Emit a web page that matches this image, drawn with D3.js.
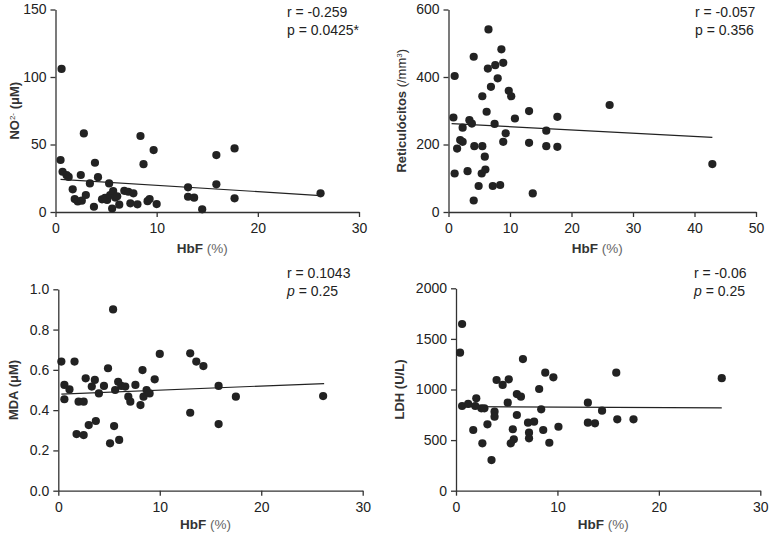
<!DOCTYPE html>
<html><head><meta charset="utf-8">
<script src="https://cdn.jsdelivr.net/npm/d3@7"></script>
<style>
body{margin:0;background:#fff;}
svg text{font-family:"Liberation Sans",Arial,sans-serif;}
</style></head>
<body><svg id="c" width="771" height="535"></svg>
<script>
// Panel A: NO2- vs HbF
const no2HbF = [0.6,0.5,0.7,1.1,1.3,1.7,1.9,2.2,2.5,2.8,3.0,2.6,3.4,3.8,3.9,4.2,4.6,4.9,5.1,5.3,5.4,5.7,5.6,5.9,6.1,6.3,6.8,7.2,7.4,7.7,8.1,8.4,8.7,9.1,9.3,9.7,10.0,13.1,13.1,13.7,14.5,15.9,15.9,17.7,17.7,26.2];
const no2Val = [106,38.5,29.8,27.3,26,16.8,9.6,7.8,27.4,58.2,12.6,8.4,21.2,3.9,36.5,25.8,9.4,10.5,8.9,21.2,12.6,15.5,2.6,10.7,11.6,5.4,15.7,15,6.4,13.8,5.7,56.3,35.4,8.0,9.6,45.9,5.9,18.3,11.3,10.6,2,42.2,20.5,47.1,10.1,13.8];
const no2Fit = {x:[0.5,26.2], y:[24.2,12.2]};

// Panel B: Reticulócitos vs HbF
const retHbF = [0.8,1.0,1.0,1.4,1.9,2.3,2.3,3.1,3.4,3.8,4.1,4.2,4.1,4.9,5.4,5.5,5.5,5.9,6.0,6.2,6.4,6.5,6.9,7.2,7.5,7.6,8.0,8.4,8.6,8.9,8.9,9.3,9.8,10.2,10.8,13.1,13.1,13.7,15.9,15.9,17.7,17.7,26.2,42.9];
const retVal = [280,403,114,188,213,208,250,121,272,262,460,195,34,77,114,195,343,164,126,297,425,541,371,77,261,435,396,80,482,208,442,233,359,343,277,299,205,55,241,195,282,193,317,142];
const retFit = {x:[0.5,42.9], y:[262,221]};

// Panel C: MDA vs HbF
const mdaHbF = [0.3,0.6,0.6,1.1,1.6,1.8,2.0,2.5,2.5,2.7,3.0,3.3,3.6,3.7,4.0,4.5,4.9,5.1,5.4,5.5,5.6,6.0,5.9,6.2,6.6,6.9,7.1,7.6,8.1,8.3,8.4,8.7,9.0,9.5,10.0,13.0,13.0,13.6,14.3,15.8,15.8,17.5,26.1];
const mdaVal = [0.641,0.525,0.454,0.503,0.641,0.281,0.442,0.442,0.276,0.558,0.326,0.517,0.55,0.346,0.483,0.52,0.608,0.235,0.9,0.321,0.5,0.252,0.541,0.52,0.517,0.467,0.442,0.525,0.425,0.599,0.467,0.5,0.483,0.553,0.679,0.682,0.387,0.641,0.619,0.52,0.331,0.467,0.47];
const mdaFit = {x:[0.3,26.2], y:[0.48,0.532]};

// Panel D: LDH vs HbF
const ldhHbF = [0.6,0.4,6.6,4.0,4.6,5.2,8.8,9.6,15.8,8.2,6.0,6.4,2.0,0.6,1.2,1.9,2.5,2.8,3.8,3.8,5.1,6.0,8.4,7.1,7.7,5.6,3.1,1.7,7.2,7.2,5.7,5.4,8.6,10.1,9.2,2.6,3.5,13.0,14.4,13.0,13.7,15.9,17.5,26.2];
const ldhVal = [1647,1364,1301,1094,1045,1101,1166,1120,1166,1005,955,929,913,837,857,837,814,814,781,731,870,748,804,672,682,607,656,600,573,518,508,468,600,632,474,468,303,870,791,672,666,705,705,1112];
const ldhFit = {x:[0.5,26.2], y:[830,818]};

const xTicksA = [0,10,20,30], xTicksB = [0,10,20,30,40,50];
const yTicksA = [0,50,100,150], yTicksB = [0,200,400,600];
const yTicksC = [0,0.2,0.4,0.6,0.8,1.0], yTicksD = [0,500,1000,1500,2000];
const xTitle = ["HbF", " (%)"];
const stats = [["r = -0.259","p"," = 0.0425*",false],["r = -0.057","p"," = 0.356",false],["r = 0.1043","p"," = 0.25",true],["r = -0.06","p"," = 0.25",true]];

const svg = d3.select("#c");
const ink = "#222";

const panels = [
 {xs:no2HbF, ys:no2Val, fit:no2Fit, xd:[0,30], yd:[0,150], xt:xTicksA, yt:yTicksA, fmt:d3.format("d"),
  L:55.5, R:359, T:9.5, B:212, yTitleX:19, xTitleY:253, yTitle:"no2", st:stats[0], stX:287, stY:17},
 {xs:retHbF, ys:retVal, fit:retFit, xd:[0,50], yd:[0,600], xt:xTicksB, yt:yTicksB, fmt:d3.format("d"),
  L:448.5, R:756, T:9.5, B:212, yTitleX:406, xTitleY:253, yTitle:"ret", st:stats[1], stX:695, stY:17},
 {xs:mdaHbF, ys:mdaVal, fit:mdaFit, xd:[0,30], yd:[0,1], xt:xTicksA, yt:yTicksC, fmt:d3.format(".1f"),
  L:58.3, R:362.7, T:289.3, B:490.7, yTitleX:18, xTitleY:529, yTitle:"mda", st:stats[2], stX:287, stY:278},
 {xs:ldhHbF, ys:ldhVal, fit:ldhFit, xd:[0,30], yd:[0,2000], xt:xTicksA, yt:yTicksD, fmt:d3.format("d"),
  L:456, R:760.3, T:288.3, B:490.7, yTitleX:404, xTitleY:529, yTitle:"ldh", st:stats[3], stX:694, stY:278}
];

panels.forEach(p=>{
  const x = d3.scaleLinear().domain(p.xd).range([p.L,p.R]);
  const y = d3.scaleLinear().domain(p.yd).range([p.B,p.T]);
  const g = svg.append("g");
  const ax = g.append("g").attr("transform",`translate(0,${p.B})`)
    .call(d3.axisBottom(x).tickValues(p.xt).tickSize(5).tickSizeOuter(0).tickFormat(d3.format("d")));
  const ay = g.append("g").attr("transform",`translate(${p.L},0)`)
    .call(d3.axisLeft(y).tickValues(p.yt).tickSize(5).tickSizeOuter(0).tickFormat(p.fmt));
  [ax,ay].forEach(a=>{
    a.selectAll("path,line").attr("stroke","#333").attr("stroke-width",1.3);
    a.selectAll("text").attr("fill","#222").style("font-size","14px");
  });
  ax.selectAll("text").attr("dy","0.95em");
  ay.selectAll("text").attr("dx","-1px");
  // fit line
  g.append("line").attr("x1",x(p.fit.x[0])).attr("x2",x(p.fit.x[1]))
    .attr("y1",y(p.fit.y[0])).attr("y2",y(p.fit.y[1])).attr("stroke","#222").attr("stroke-width",1.2);
  // points
  g.selectAll("circle").data(p.xs.map((v,i)=>[v,p.ys[i]])).join("circle")
    .attr("cx",d=>x(d[0])).attr("cy",d=>y(d[1])).attr("r",4.1).attr("fill",ink);
  // x title
  const xtx = g.append("text").attr("x",(p.L+p.R)/2 - 5).attr("y",p.xTitleY).attr("text-anchor","middle")
    .style("font-size","13.5px").attr("fill","#333");
  xtx.append("tspan").text(xTitle[0]).style("font-weight","bold");
  xtx.append("tspan").text(xTitle[1]).attr("fill","#666");
  // y title
  const cy = (p.T+p.B)/2;
  const yt = g.append("text").attr("transform",`translate(${p.yTitleX},${cy}) rotate(-90)`)
    .attr("text-anchor","middle").style("font-size","13px").style("font-weight","bold").attr("fill","#333");
  if(p.yTitle==="no2"){
    yt.append("tspan").text("NO");
    yt.append("tspan").text("2-").attr("baseline-shift","super").style("font-size","8px").style("font-weight","normal");
    yt.append("tspan").text(" (μM)");
  } else if(p.yTitle==="ret"){
    yt.append("tspan").text("Reticulócitos ");
    yt.append("tspan").text("(/mm").style("font-weight","normal");
    yt.append("tspan").text("3").attr("baseline-shift","super").style("font-size","8px").style("font-weight","normal");
    yt.append("tspan").text(")").style("font-weight","normal");
  } else if(p.yTitle==="mda"){
    yt.text("MDA (μM)");
  } else {
    yt.text("LDH (U/L)");
  }
  // stats
  g.append("text").attr("x",p.stX).attr("y",p.stY).text(p.st[0]).style("font-size","14px").attr("fill","#222");
  const pt = g.append("text").attr("x",p.stX).attr("y",p.stY+18).style("font-size","14px").attr("fill","#222");
  pt.append("tspan").text(p.st[1]).style("font-style",p.st[3]?"italic":"normal");
  pt.append("tspan").text(p.st[2]);
});
</script></body></html>
